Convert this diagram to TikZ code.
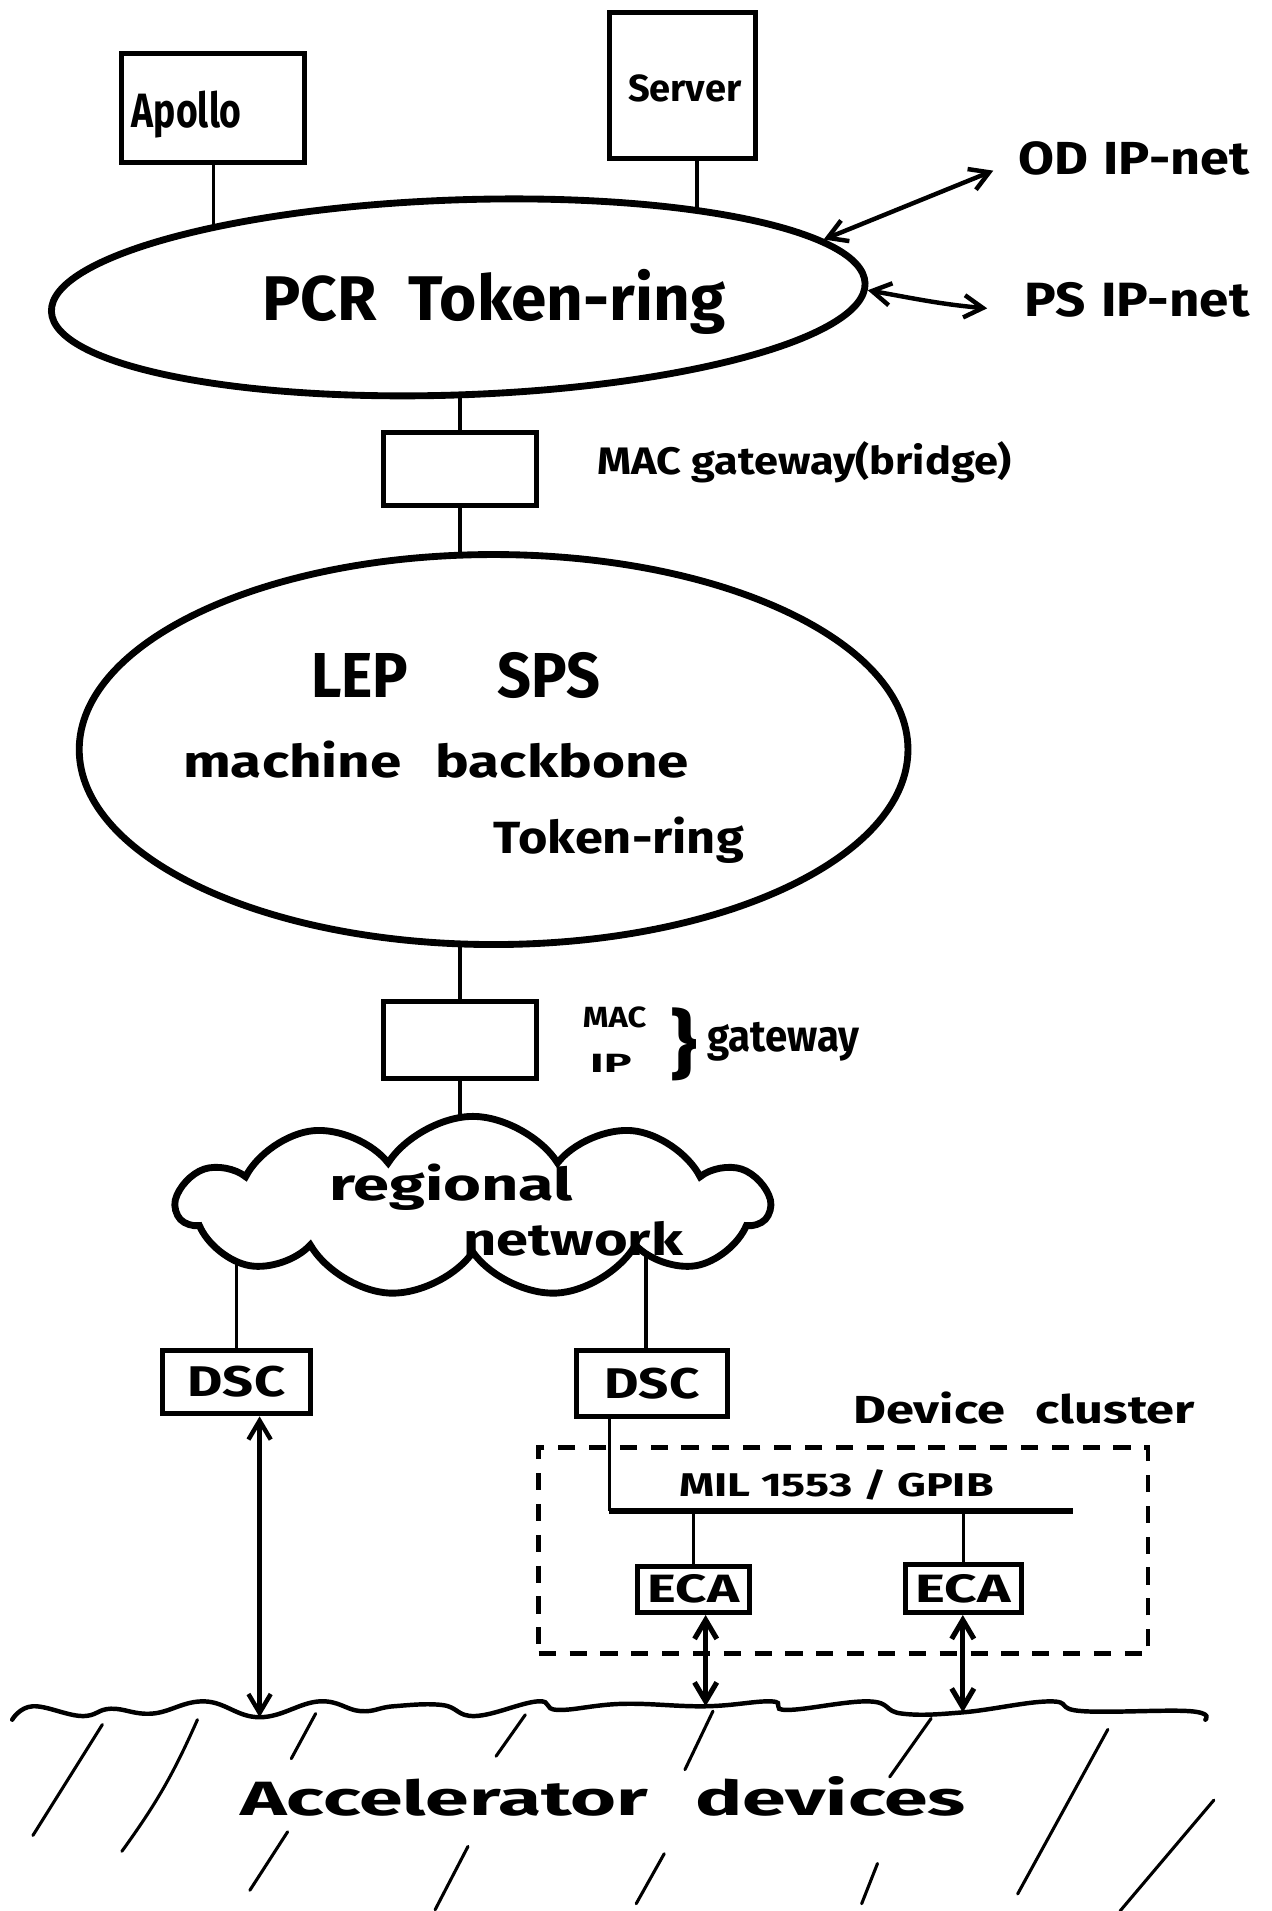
\documentclass[tikz,border=0pt]{standalone}
\usepackage{fontspec}
\setmainfont{Fira Sans}
\usepackage{graphicx}
\usetikzlibrary{shapes.geometric,shapes.symbols,arrows.meta,backgrounds}
% text squeezed into a box of given width and height (in drawing units)
\newcommand\hw[3]{\resizebox{\dimexpr0.025cm*#1\relax}{\dimexpr0.025cm*#2\relax}{\bfseries #3}}
\newcommand\hwt[3]{\resizebox*{\dimexpr0.025cm*#1\relax}{\dimexpr0.025cm*#2\relax}{\bfseries #3}}
\begin{document}
\begin{tikzpicture}[x=0.025cm,y=-0.025cm,
  sz/.style 2 args={minimum width=#1*0.025cm,minimum height=#2*0.025cm},
  ring/.style={ellipse,draw,line width=4pt,fill=white,inner sep=0pt},
  boxnode/.style={rectangle,draw,line width=3pt,fill=white,inner sep=0pt},
  hand/.style={inner sep=0pt,anchor=base west},
  link/.style={line width=2pt},
  dblarrow/.style={line width=2.6pt,{Straight Barb[length=11pt,width=13pt]}-{Straight Barb[length=11pt,width=13pt]}},
  hatch/.style={line width=1.8pt,line cap=round}]
\useasboundingbox (0,0) rectangle (1043,1568);

% hosts on the PCR ring
\node[boxnode,sz={150}{89}] (apollo) at (175,88.5) {};
\node[boxnode,sz={120}{120}] (server) at (560,70) {};
\node[hand] (tapollo) at (108,105) {\hw{90}{30}{Apollo}};
\node[hand] (tserver) at (515,83) {\hw{93}{22}{Server}};

% PCR token ring
\node[ring,sz={668}{160},rotate=2] (pcr) at (376,244) {};
\node[hand] (tpcr) at (215,263) {\hw{380}{42}{PCR\hspace{0.5em}Token-ring}};

% outside networks
\coordinate (odend) at (815,140);
\coordinate (psend) at (810,253);
\node[hand] (tod) at (835,143) {\hw{190}{27}{OD\hspace{0.3em}IP-net}};
\node[hand] (tps) at (840,260) {\hw{185}{28}{PS\hspace{0.3em}IP-net}};
\draw[dblarrow] (pcr.7) -- (odend);
\draw[dblarrow] (pcr.-1) to[out=-10,in=175] (psend);

% bridge
\node[boxnode,sz={125}{60}] (gw1) at (377.5,385) {};
\node[hand] (tgw1) at (490,389) {\hw{340}{27}{MAC gateway(bridge)}};

% machine backbone
\node[ring,sz={680}{320}] (lep) at (405,615) {};
\node[hand] (tlep) at (255,572) {\hw{237}{37}{LEP\hspace{1.5em}SPS}};
\node[hand] (tmach) at (150,638) {\hw{415}{30}{machine\hspace{0.6em}backbone}};
\node[hand] (ttok) at (405,700) {\hw{205}{30}{Token-ring}};

% MAC/IP gateway
\node[boxnode,sz={125}{63}] (gw2) at (377.5,853.5) {};
\node[hand] (tmac) at (478,843) {\hw{52}{17}{MAC}};
\node[hand] (tip) at (484,880) {\hw{34}{15}{IP}};
\node[inner sep=0pt] (tbrace) at (561,857) {\hwt{22}{60}{\}}};
\node[hand] (tgw2) at (580,863) {\hw{125}{24}{gateway}};

% regional network
\node[cloud,draw,line width=4pt,fill=white,cloud puffs=11,cloud puff arc=115,
      cloud ignores aspect,sz={485}{148},inner sep=0pt] (cloud) at (388,990) {};
\node[hand] (treg) at (270,985) {\hw{200}{30}{regional}};
\node[hand] (tnet) at (380,1030) {\hw{180}{28}{network}};

% DSCs
\node[boxnode,sz={122}{52}] (dsc1) at (194,1134) {\hw{80}{25}{DSC}};
\node[boxnode,sz={124}{54}] (dsc2) at (535,1135) {\hw{78}{25}{DSC}};

% device cluster
\node[draw,line width=2.8pt,dash pattern=on 10pt off 8pt,sz={500}{169},inner sep=0pt] (cluster) at (692,1272.5) {};
\node[hand] (tcluster) at (700,1168) {\hw{280}{26}{Device\hspace{0.6em}cluster}};
\coordinate (busL) at (500,1240);
\coordinate (busR) at (880,1240);
\node[hand] (tbus) at (557,1228) {\hw{258}{22}{MIL 1553 / GPIB}};
\node[boxnode,sz={92}{38}] (eca1) at (569,1304) {\hw{75}{23}{ECA}};
\node[boxnode,sz={95}{39}] (eca2) at (790.5,1303.5) {\hw{78}{23}{ECA}};
\draw[link] (dsc2.south -| busL) -- (busL);
\draw[line width=3.4pt] (busL) -- (busR);
\draw[link] (eca1.north) -- (eca1.north |- busL);
\draw[link] (eca2.north) -- (eca2.north |- busL);

% accelerator devices
\coordinate (w1) at (213,1409);
\coordinate (w2) at (579,1400);
\coordinate (w3) at (790,1405);
\draw[line width=2.6pt,line cap=round] plot[smooth,tension=0.7] coordinates {
  (10,1411) (27,1400) (67,1408) (91,1402) (125,1406) (168,1396) (213,1409)
  (262,1396) (296,1404) (323,1400) (363,1399) (390,1408) (441,1396) (458,1403)
  (511,1398) (579,1400) (633,1396) (646,1403) (713,1396) (740,1406) (790,1405)
  (861,1396) (888,1404) (976,1404) (989,1411)};
\draw[dblarrow] (dsc1.south -| w1) -- (w1);
\draw[dblarrow,line width=3pt] (eca1.south -| w2) -- (w2);
\draw[dblarrow,line width=3pt] (eca2.south -| w3) -- (w3);
\draw[hatch] (84,1415) -- (27,1506);
\draw[hatch] (162,1411) to[bend left=6] (100,1519);
\draw[hatch] (259,1406) -- (239,1443);
\draw[hatch] (236,1503) -- (205,1551);
\draw[hatch] (431,1407) -- (407,1441);
\draw[hatch] (384,1515) -- (357,1567);
\draw[hatch] (585,1404) -- (562,1452);
\draw[hatch] (545,1521) -- (522,1562);
\draw[hatch] (764,1410) -- (730,1458);
\draw[hatch] (720,1529) -- (707,1562);
\draw[hatch] (909,1419) -- (835,1554);
\draw[hatch] (996,1477) -- (919,1568);
\node[hand] (tacc) at (197,1490) {\hw{595}{32}{Accelerator\hspace{0.6em}devices}};

% links running into the rings and the cloud
\begin{scope}[on background layer]
  \fill[white] (0,0) rectangle (1043,1568);
  \draw[link] (apollo.south) -- (apollo.south |- pcr.center);
  \draw[link] ([xshift=0.3cm]server.south) -- ([xshift=0.3cm]server.south |- pcr.center);
  \draw[link] (gw1.north) -- (gw1.north |- pcr.center);
  \draw[link] (gw1.south) -- (gw1.south |- lep.center);
  \draw[link] (gw2.north) -- (gw2.north |- lep.center);
  \draw[link] (gw2.south) -- (gw2.south |- cloud.center);
  \draw[link] (dsc1.north) -- (dsc1.north |- cloud.center);
  \draw[link] ([xshift=-0.125cm]dsc2.north) -- ([xshift=-0.125cm]dsc2.north |- cloud.center);
\end{scope}
\end{tikzpicture}
\end{document}
